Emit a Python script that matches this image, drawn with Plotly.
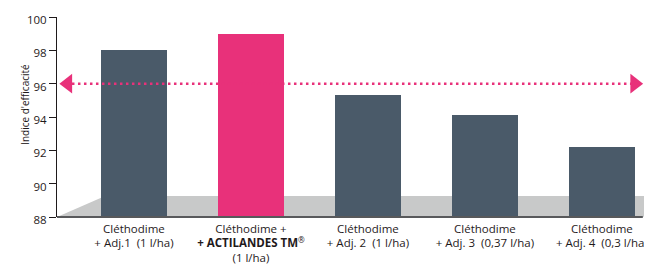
import plotly.graph_objects as go

categories = [
    "Cléthodime<br>+ Adj.1\u00a0\u00a0(1 l/ha)",
    "Cléthodime +<br><b>+ ACTILANDES TM</b><sup>®</sup><br>(1 l/ha)",
    "Cléthodime<br>+ Adj.\u00a02\u00a0\u00a0(1 l/ha)",
    "Cléthodime<br>+ Adj.\u00a03\u00a0\u00a0(0,37 l/ha)",
    "Cléthodime<br>+ Adj.\u00a04\u00a0\u00a0(0,3 l/ha)",
]
values = [98.0, 99.0, 95.35, 94.1, 92.2]
bar_colors = ["#4a5a69", "#e8317a", "#4a5a69", "#4a5a69", "#4a5a69"]
reference_level = 96
y_ticks = [88, 90, 92, 94, 96, 98, 100]

PINK = "#e8317a"
FONT = "Open Sans"
TEXT = "#1f1a1b"

x_pos = list(range(len(categories)))

fig = go.Figure()

fig.add_trace(go.Bar(
    x=x_pos, y=[v - 88 for v in values], base=88,
    marker=dict(color=bar_colors, line=dict(width=0)),
    width=0.564, hoverinfo="skip", showlegend=False,
))

# dotted reference line with arrowheads
arrow_left, arrow_right = -0.53, 4.25
fig.add_trace(go.Scatter(
    x=[arrow_left, arrow_right], y=[reference_level, reference_level],
    mode="lines", line=dict(color=PINK, width=2.5, dash="2.5px,3.5px"),
    hoverinfo="skip", showlegend=False,
))
fig.add_trace(go.Scatter(
    x=[arrow_left - 0.035, arrow_right + 0.03], y=[reference_level, reference_level],
    mode="markers",
    marker=dict(symbol=["triangle-left", "triangle-right"], size=17, color=PINK,
                line=dict(width=0)),
    hoverinfo="skip", showlegend=False, cliponaxis=False,
))

# grey floor (3D-style base)
fig.add_shape(
    type="path", xref="paper", yref="paper",
    path="M 0 0 L 0.082 0.105 L 1.03 0.105 L 1.03 0.035 L 0.998 0 Z",
    fillcolor="#c8c9c9", line=dict(width=0), layer="below",
)
# dark base line
fig.add_shape(
    type="line", xref="paper", yref="paper",
    x0=0, x1=0.998, y0=0, y1=0,
    line=dict(color="#58595b", width=2), layer="above",
)

fig.add_annotation(
    text="Indice d'efficacité", xref="paper", yref="paper",
    x=-0.07, y=0.565, textangle=-90, showarrow=False,
    font=dict(family=FONT, size=10, color=TEXT),
)

# page body has an 8px default margin, so the figure is 8px smaller
fig.update_layout(
    width=644, height=258,
    margin=dict(l=49, r=8, t=9, b=49, autoexpand=False),
    paper_bgcolor="white", plot_bgcolor="white",
    font=dict(family=FONT, size=11.5, color=TEXT),
    xaxis=dict(
        range=[-0.658, 4.36], tickvals=x_pos, ticktext=categories,
        showgrid=False, zeroline=False, showline=False, ticks="",
        tickfont=dict(size=11.5, color=TEXT), automargin=False,
        ticklabelstandoff=3,
    ),
    yaxis=dict(
        range=[88, 100], tickvals=y_ticks, showgrid=False, zeroline=False,
        showline=True, linecolor=TEXT, linewidth=1,
        ticks="outside", ticklen=7, tickcolor=TEXT, tickwidth=1,
        ticklabelshift=3, ticklabelstandoff=0, automargin=False,
        tickfont=dict(size=11.5, color=TEXT),
    ),
    bargap=0,
)

fig.write_html("out.html")
